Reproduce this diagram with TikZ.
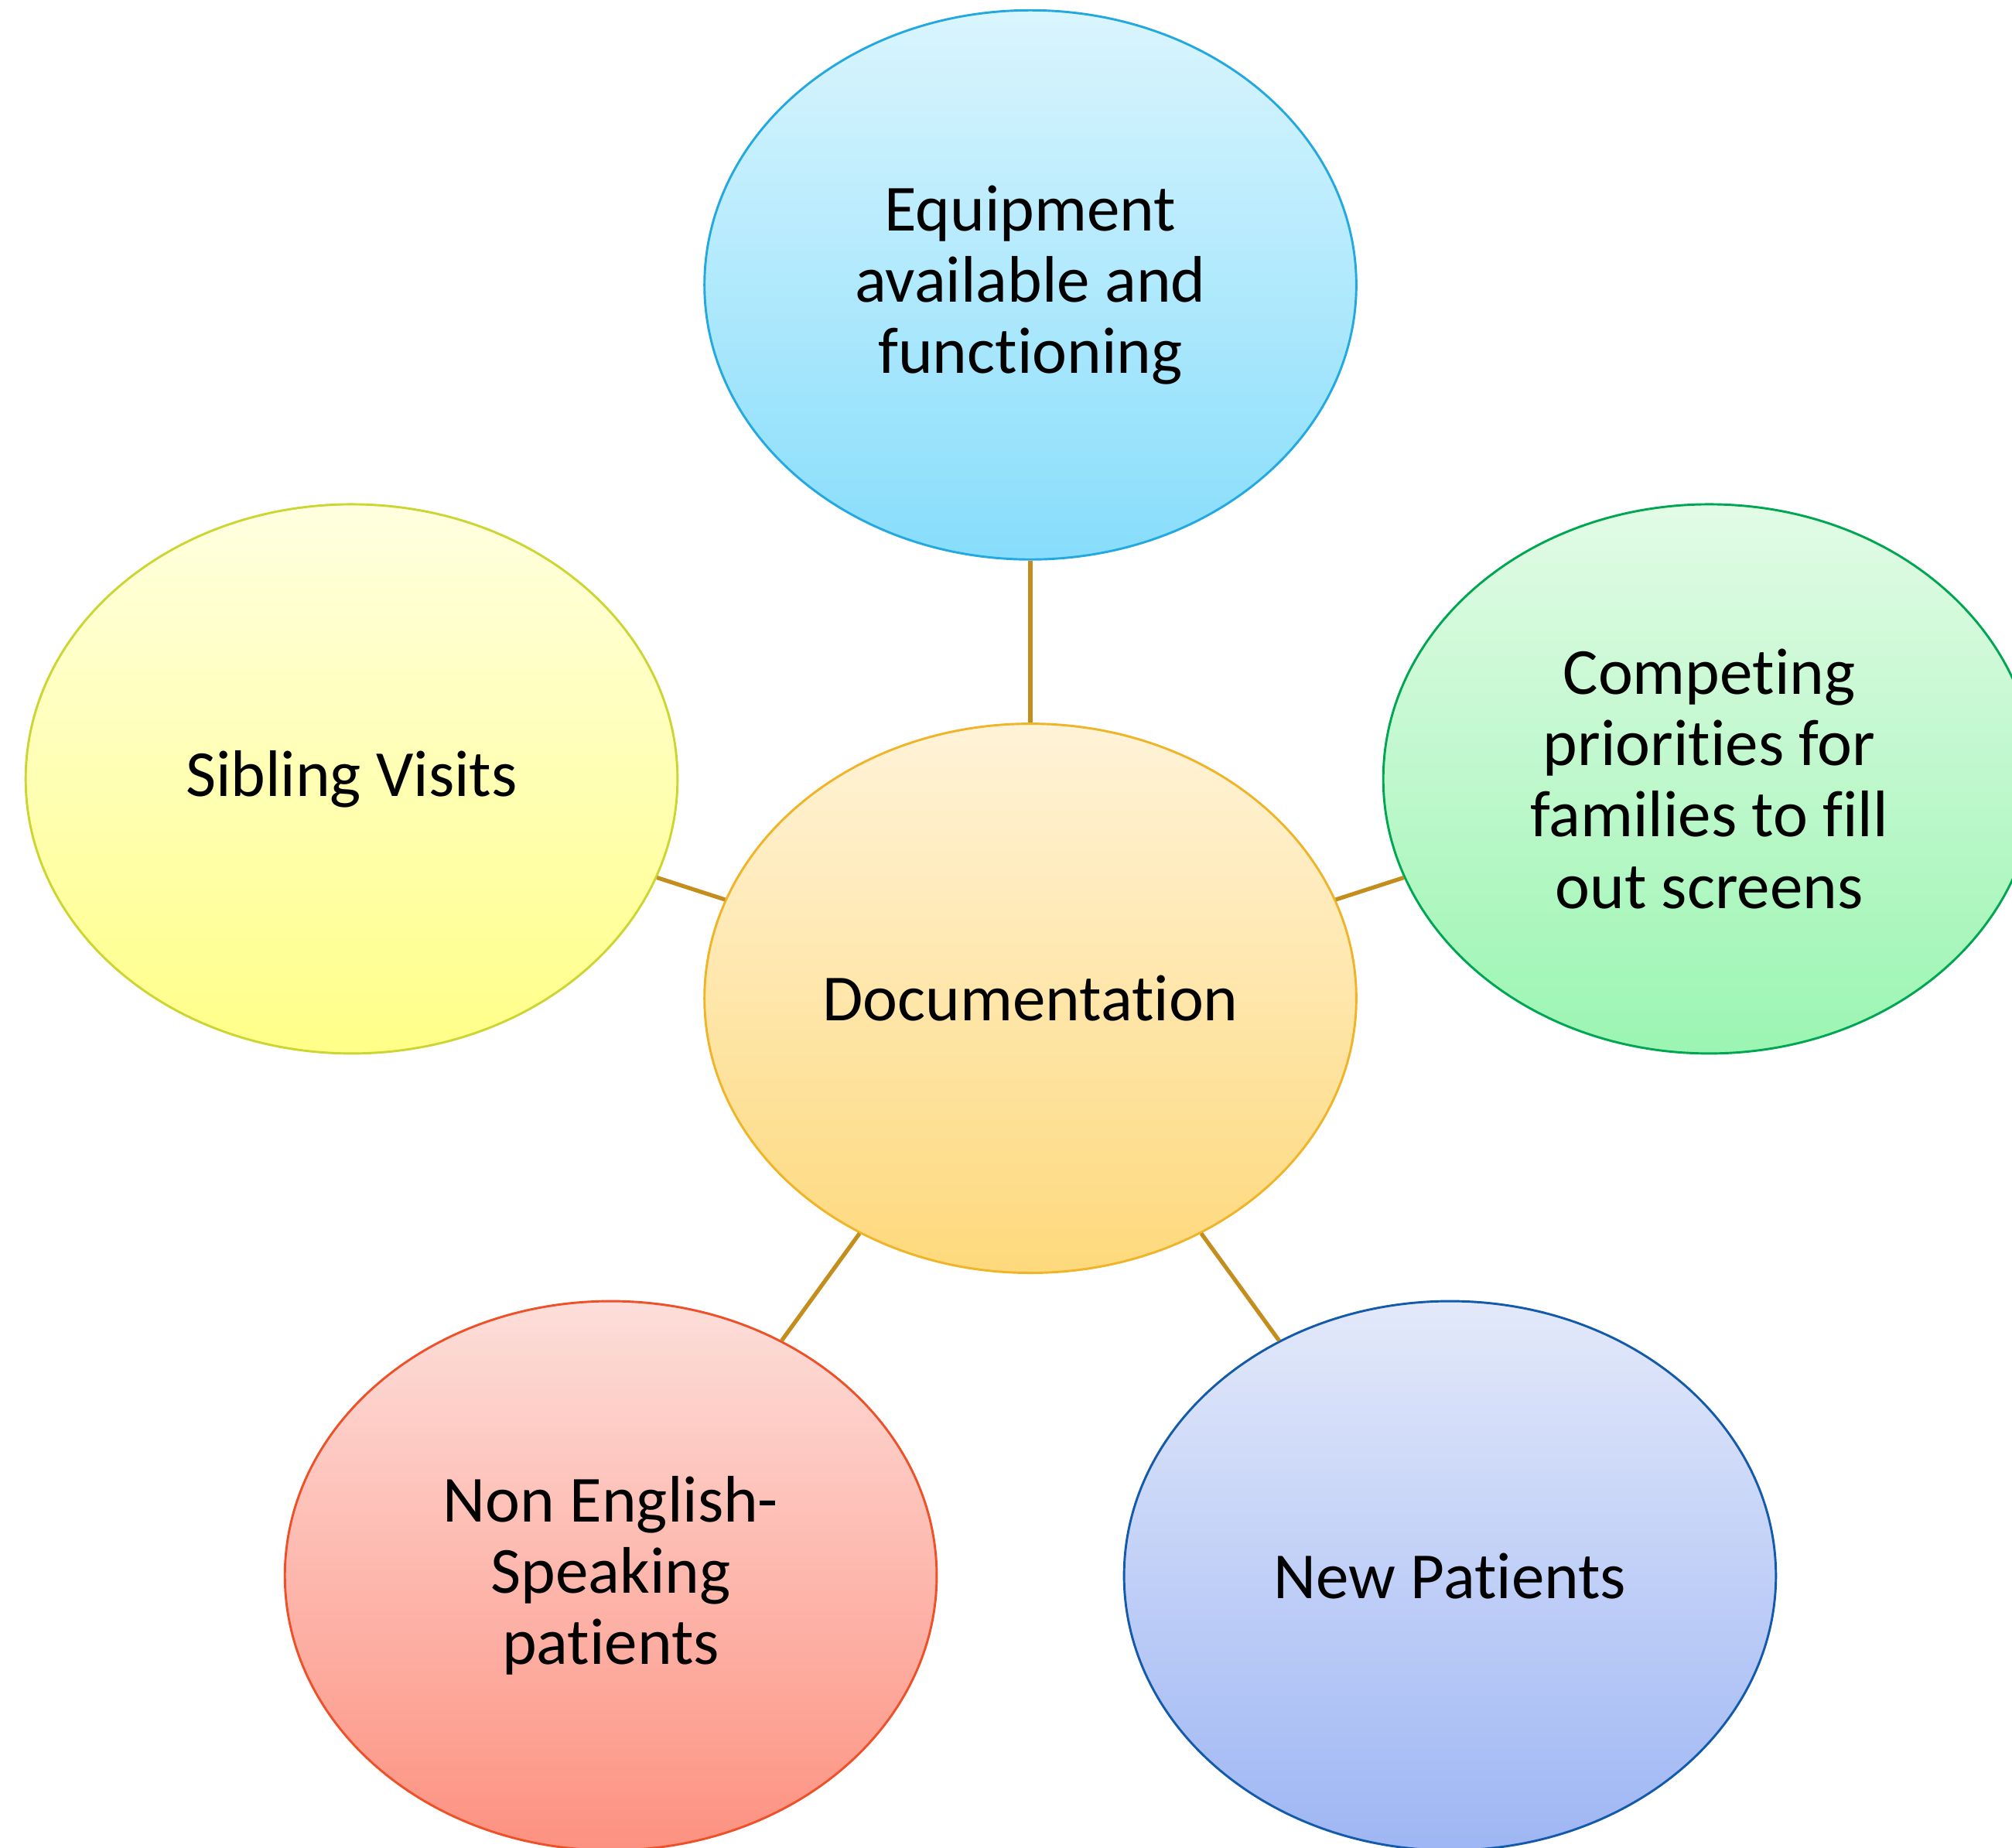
\documentclass[tikz,border=0pt]{standalone}
\usepackage{fontspec}
\setmainfont{Carlito}[Ligatures={NoCommon}]
\usetikzlibrary{shapes.geometric}
\definecolor{linkc}{RGB}{196,142,30}
\tikzset{
  bubble/.style={ellipse, draw, line width=0.5pt, minimum width=5.08cm, minimum height=4.28cm,
    inner sep=0pt, align=center, text=black, font=\fontsize{14.6pt}{15.8pt}\selectfont},
  link/.style={draw=linkc, line width=0.9pt}
}
\begin{document}
\begin{tikzpicture}
\useasboundingbox (0,0) rectangle (15.68,-14.40);
\clip (0,0) rectangle (15.68,-14.40);
\node[bubble, draw={rgb,255:red,240;green,180;blue,40}, top color={rgb,255:red,255;green,243;blue,216}, bottom color={rgb,255:red,254;green,217;blue,124}] (c) at (8.03,-7.78) {Documentation};
\node[bubble, draw={rgb,255:red,35;green,168;blue,224}, top color={rgb,255:red,218;green,245;blue,253}, bottom color={rgb,255:red,135;green,221;blue,252}] (t) at (8.03,-2.22) {Equipment\\available and\\functioning};
\node[bubble, draw={rgb,255:red,0;green,166;blue,81}, top color={rgb,255:red,226;green,251;blue,230}, bottom color={rgb,255:red,155;green,245;blue,178}] (r) at (13.32,-6.07) {Competing\\priorities for\\families to fill\\out screens};
\node[bubble, draw={rgb,255:red,204;green,214;blue,50}, top color={rgb,255:red,255;green,255;blue,224}, bottom color={rgb,255:red,255;green,255;blue,136}] (l) at (2.74,-6.07) {Sibling Visits};
\node[bubble, draw={rgb,255:red,238;green,80;blue,40}, top color={rgb,255:red,253;green,222;blue,218}, bottom color={rgb,255:red,253;green,145;blue,128}] (bl) at (4.76,-12.28) {Non English-\\Speaking\\patients};
\node[bubble, draw={rgb,255:red,20;green,90;blue,170}, top color={rgb,255:red,227;green,233;blue,250}, bottom color={rgb,255:red,158;green,182;blue,244}] (br) at (11.30,-12.28) {New Patients};
\draw[link] (c) -- (t);
\draw[link] (c) -- (r);
\draw[link] (c) -- (l);
\draw[link] (c) -- (bl);
\draw[link] (c) -- (br);
\end{tikzpicture}
\end{document}
